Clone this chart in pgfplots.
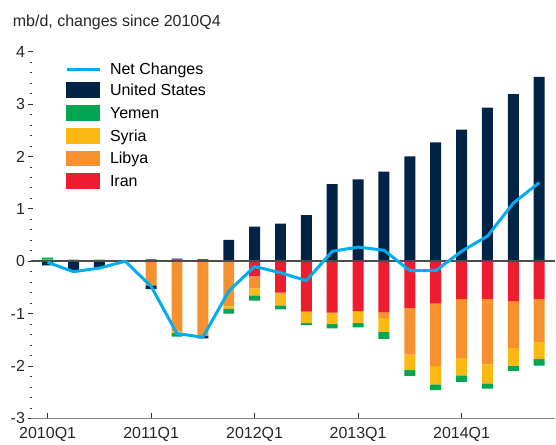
\documentclass[border=0pt]{standalone}
\usepackage{fontspec}
\setmainfont{Liberation Sans}
\usepackage{pgfplots}
\usepackage{pgfplotstable}
\pgfplotsset{compat=1.18}
\definecolor{usnavy}{RGB}{0,35,70}
\definecolor{yemgreen}{RGB}{0,166,81}
\definecolor{syryellow}{RGB}{253,185,19}
\definecolor{liborange}{RGB}{247,144,46}
\definecolor{iranred}{RGB}{237,28,46}
\definecolor{netblue}{RGB}{0,174,239}
\newcommand{\lfont}{\fontsize{16pt}{19pt}\selectfont}

\pgfplotstableread{
x  usp  irp  lbp  syp yep  usn   irn   lbn   syn   yen   net
0  0    0.03 0.01 0   0.03 -0.08 0     0     0     0     -0.02
1  0    0    0.01 0   0.02 -0.17 0     0     0     0     -0.20
2  0    0    0    0   0.03 -0.12 0     0     0     0     -0.13
3  0    0    0    0   0    0     0     0     0     0     0.00
4  0    0    0    0   0.04 -0.07 0     -0.46 0     0     -0.48
5  0.02 0.03 0    0   0    0     0     -1.34 -0.03 -0.07 -1.38
6  0    0.04 0    0   0    -0.05 0     -1.42 0     0     -1.45
7  0.41 0    0    0   0    0     0     -0.86 -0.05 -0.09 -0.57
8  0.66 0    0    0   0    0     -0.29 -0.23 -0.13 -0.10 -0.10
9  0.72 0    0    0   0    0     -0.60 -0.02 -0.22 -0.08 -0.22
10 0.86 0    0.02 0   0    0     -0.96 0     -0.22 -0.04 -0.37
11 1.47 0    0    0   0    0     -0.98 0     -0.22 -0.08 0.19
12 1.54 0    0.02 0   0    0     -0.95 0     -0.23 -0.08 0.27
13 1.71 0    0    0   0    0     -0.97 -0.11 -0.27 -0.13 0.21
14 2.00 0    0    0   0    0     -0.89 -0.89 -0.30 -0.11 -0.18
15 2.27 0    0    0   0    0     -0.81 -1.19 -0.35 -0.11 -0.18
16 2.51 0    0    0   0    0     -0.72 -1.13 -0.33 -0.12 0.19
17 2.93 0    0    0   0    0     -0.72 -1.25 -0.36 -0.10 0.48
18 3.19 0    0    0   0    0     -0.76 -0.90 -0.33 -0.10 1.11
19 3.52 0    0    0   0    0     -0.72 -0.82 -0.33 -0.12 1.50
}\data

\pgfplotsset{base/.style={
  scale only axis, width=525pt, height=367.3pt,
  xmin=-0.645, xmax=19.62, ymin=-3, ymax=4,
  clip=false,
}}

\begin{document}
\begin{tikzpicture}
% axis 1: decorations and negative stacks
\begin{axis}[base, ybar stacked, bar width=11pt,
  axis x line*=bottom, axis y line*=left,
  x axis line style={-, draw=black!50, line width=1.5pt},
  y axis line style={draw=none},
  xtick={0,4,8,12,16},
  xticklabels={2010Q1,2011Q1,2012Q1,2013Q1,2014Q1},
  ytick={-3,-2,-1,0,1,2,3,4},
  minor y tick num=4,
  xtick align=inside, ytick align=center,
  major tick length=5pt, minor tick length=1.5pt,
  tick style={black!80, line width=0.8pt},
  ticklabel style={font=\lfont, text=black!85},
  xticklabel style={yshift=-5pt},
  /pgf/number format/assume math mode=true,
]
\addplot[fill=iranred, draw=none] table[x=x, y=irn] {\data};
\addplot[fill=liborange, draw=none] table[x=x, y=lbn] {\data};
\addplot[fill=syryellow, draw=none] table[x=x, y=syn] {\data};
\addplot[fill=yemgreen, draw=none] table[x=x, y=yen] {\data};
\addplot[fill=usnavy, draw=none] table[x=x, y=usn] {\data};
\end{axis}
% axis 2: positive stacks
\begin{axis}[base, hide axis, ybar stacked, bar width=11pt]
\addplot[fill=iranred, draw=none] table[x=x, y=irp] {\data};
\addplot[fill=liborange, draw=none] table[x=x, y=lbp] {\data};
\addplot[fill=syryellow, draw=none] table[x=x, y=syp] {\data};
\addplot[fill=yemgreen, draw=none] table[x=x, y=yep] {\data};
\addplot[fill=usnavy, draw=none] table[x=x, y=usp] {\data};
\end{axis}
% axis 3: zero line, net line, legend, title
\begin{axis}[base, hide axis,
  legend style={at={(rel axis cs:0,1)}, anchor=north west, xshift=34pt, yshift=-11.5pt,
    draw=none, fill=none, inner sep=0pt, font=\lfont, row sep=7.4pt,
    nodes={inner sep=0pt, text height=11.5pt, text depth=0pt},
    /tikz/every odd column/.append style={column sep=9pt}},
  legend cell align=left,
]
\addlegendimage{legend image code/.code={\draw[netblue, line width=3pt] (0pt,0pt) -- (33pt,0pt);}}
\addlegendentry{Net Changes}
\addlegendimage{legend image code/.code={\fill[usnavy] (0pt,-7.5pt) rectangle (33pt,7.5pt);}}
\addlegendentry{United States}
\addlegendimage{legend image code/.code={\fill[yemgreen] (0pt,-7.5pt) rectangle (33pt,7.5pt);}}
\addlegendentry{Yemen}
\addlegendimage{legend image code/.code={\fill[syryellow] (0pt,-7.5pt) rectangle (33pt,7.5pt);}}
\addlegendentry{Syria}
\addlegendimage{legend image code/.code={\fill[liborange] (0pt,-7.5pt) rectangle (33pt,7.5pt);}}
\addlegendentry{Libya}
\addlegendimage{legend image code/.code={\fill[iranred] (0pt,-7.5pt) rectangle (33pt,7.5pt);}}
\addlegendentry{Iran}
\addplot[forget plot, black!70, line width=1.5pt] coordinates {(-0.645,0) (19.62,0)};
\addplot[forget plot, netblue, line width=3pt, line join=round, mark=none] table[x=x, y=net] {\data};
\node[anchor=base west, inner sep=0pt, font=\lfont, text=black!85]
  at ([shift={(-18.3pt,25pt)}]rel axis cs:0,1) {mb/d, changes since 2010Q4};
\path ([shift={(-31pt,419pt)}]rel axis cs:0,0) ([shift={(525pt,-24pt)}]rel axis cs:0,0);
\end{axis}
\end{tikzpicture}
\end{document}
